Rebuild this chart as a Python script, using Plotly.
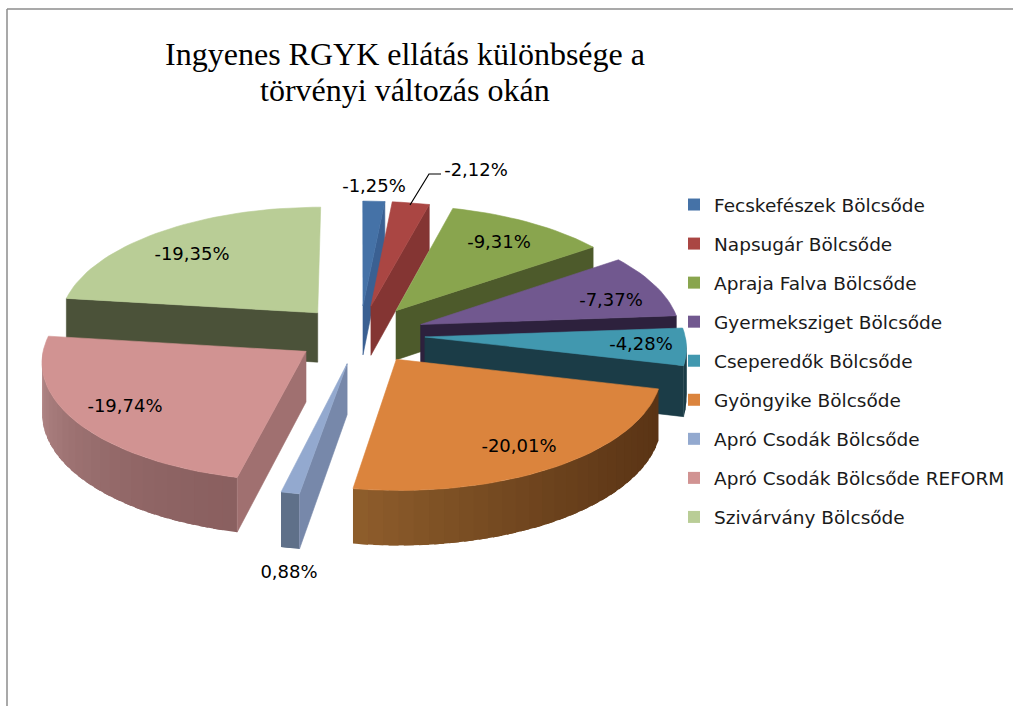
import math
import plotly.graph_objects as go

categories = ["Fecskefészek Bölcsőde", "Napsugár Bölcsőde", "Apraja Falva Bölcsőde",
              "Gyermeksziget Bölcsőde", "Cseperedők Bölcsőde", "Gyöngyike Bölcsőde",
              "Apró Csodák Bölcsőde", "Apró Csodák Bölcsőde REFORM", "Szivárvány Bölcsőde"]
values = [-1.25, -2.12, -9.31, -7.37, -4.28, -20.01, 0.88, -19.74, -19.35]
top_colors = ["#4572A7", "#AA4643", "#89A54E", "#71588F", "#4198AF", "#DB843D", "#93A9CF", "#D19392", "#B9CD96"]
cut_colors = ["#3A6092", "#843533", "#4D5A2B", "#2D213D", "#1B3C47", "#5A3415", "#7788AA", "#A07070", "#4B5239"]
rim_start = ["#3A6092", "#843533", "#4D5A2B", "#2D213D", "#1B3C47", "#5A3415", "#5F7089", "#8A6060", "#4B5239"]
rim_end = ["#3A6092", "#843533", "#4D5A2B", "#2D213D", "#1B3C47", "#8F5E2C", "#5F7089", "#B88C8C", "#4B5239"]
label_pos = [(374, 187), (476, 171), (499, 243), (611, 301), (641, 345),
             (519, 447), (289, 573), (125, 407), (192, 255)]
leader_x = [410, 429, 441]
leader_y = [205, 174, 174]

TITLE_LINE_1 = "Ingyenes RGYK ellátás különbsége a"
TITLE_LINE_2 = "törvényi változás okán"
CX, CY, K, R, EXPL, H, PERSP = 360, 334.5, 0.45, 260, 65, 50, 0.09
DRAW_ORDER = [8, 0, 1, 2, 3, 4, 6, 7, 5]


def project(X, Y, z=0.0):
    s = 1 / (1 + PERSP * Y / 304)
    return CX + X * s, CY - K * Y * s + z * s


def mix(c1, c2, t):
    a = [int(c1[i:i + 2], 16) for i in (1, 3, 5)]
    b = [int(c2[i:i + 2], 16) for i in (1, 3, 5)]
    return "#%02X%02X%02X" % tuple(round(p + (q - p) * t) for p, q in zip(a, b))


def pol(r, deg, ax, ay):
    t = math.radians(deg)
    return ax + r * math.sin(t), ay + r * math.cos(t)


def poly(fig, pts, color, lw=0.6):
    xs = [p[0] for p in pts] + [pts[0][0]]
    ys = [p[1] for p in pts] + [pts[0][1]]
    fig.add_trace(go.Scatter(x=xs, y=ys, mode="lines", fill="toself", fillcolor=color,
                             line=dict(color=color, width=lw), showlegend=False, hoverinfo="skip"))


fig = go.Figure()
total = sum(abs(v) for v in values)
bounds = [0.0]
for v in values:
    bounds.append(bounds[-1] + abs(v) / total * 360)

for i in DRAW_ORDER:
    a0, a1 = bounds[i], bounds[i + 1]
    ax, ay = pol(EXPL, (a0 + a1) / 2, 0, 0)
    # outer wall, painted with overlapping strips so that no seams show
    lo, hi = max(a0, 90), min(a1, 270)
    if hi > lo:
        n = max(2, int((hi - lo) / 3))
        for j in range(n):
            t0 = lo + (hi - lo) * j / n
            t1 = min(hi, lo + (hi - lo) * (j + 1) / n + 2)
            p0, p1 = pol(R, t0, ax, ay), pol(R, t1, ax, ay)
            poly(fig, [project(*p0), project(*p1), project(*p1, H), project(*p0, H)],
                 mix(rim_start[i], rim_end[i], ((j + 0.5) / n) ** 1.6), lw=0)
    # cut walls
    for ang, visible in ((a0, math.sin(math.radians(a0)) < -1e-6), (a1, math.sin(math.radians(a1)) > 1e-6)):
        if visible:
            p = pol(R, ang, ax, ay)
            poly(fig, [project(ax, ay), project(*p), project(*p, H), project(ax, ay, H)], cut_colors[i])
    # top face
    n = max(3, int((a1 - a0) / 2))
    arc = [project(*pol(R, a0 + (a1 - a0) * j / n, ax, ay)) for j in range(n + 1)]
    poly(fig, [project(ax, ay)] + arc, top_colors[i])

fig.add_trace(go.Scatter(x=leader_x, y=leader_y, mode="lines", line=dict(color="#000000", width=1.2),
                         showlegend=False, hoverinfo="skip"))
fig.add_trace(go.Scatter(x=[p[0] for p in label_pos], y=[p[1] for p in label_pos], mode="text",
                         text=[("%.2f%%" % v).replace(".", ",") for v in values], textposition="middle center",
                         textfont=dict(family="DejaVu Sans", size=18, color="#000000"),
                         showlegend=False, hoverinfo="skip"))

for name, color in zip(categories, top_colors):
    fig.add_trace(go.Scatter(x=[None], y=[None], mode="markers", name=name, legendgroup=name,
                             marker=dict(symbol="square", size=12, color=color)))

fig.add_shape(type="line", x0=7, x1=1013, y0=9, y1=9, line=dict(color="#8C8C8C", width=1.5))
fig.add_shape(type="line", x0=7, x1=7, y0=9, y1=706, line=dict(color="#8C8C8C", width=1.5))

fig.update_layout(
    width=1013, height=706, margin=dict(l=0, r=0, t=0, b=0),
    paper_bgcolor="#FFFFFF", plot_bgcolor="#FFFFFF",
    title=dict(text=TITLE_LINE_1, x=405 / 1013, xanchor="center", y=1 - 54 / 706, yanchor="middle",
               font=dict(family="Liberation Serif", size=32, color="#000000")),
    annotations=[dict(text=TITLE_LINE_2, x=405, y=90, xref="x", yref="y", showarrow=False,
                      font=dict(family="Liberation Serif", size=32, color="#000000"))],
    xaxis=dict(range=[0, 1013], visible=False, fixedrange=True),
    yaxis=dict(range=[706, 0], visible=False, fixedrange=True),
    legend=dict(x=674 / 1013, y=1 - 186 / 706, xanchor="left", yanchor="top", tracegroupgap=12,
                bgcolor="rgba(0,0,0,0)", font=dict(family="DejaVu Sans", size=18.5, color="#1A1A1A")),
)
fig.write_html("out.html", config={"displayModeBar": False},
               post_script="document.body.style.margin='0';document.documentElement.style.overflow='hidden';")
